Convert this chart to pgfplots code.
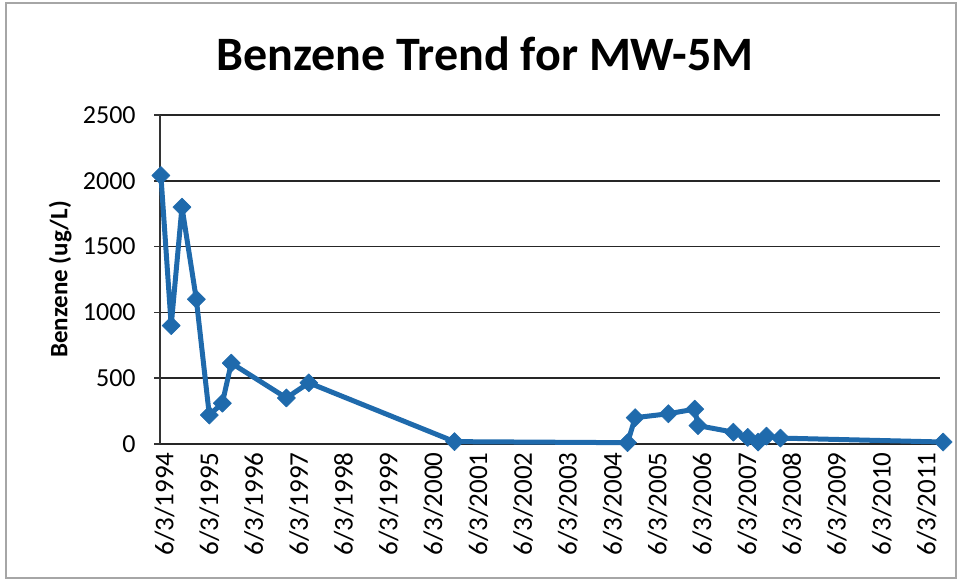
\documentclass[border=0pt]{standalone}
\usepackage{pgfplots}
\pgfplotsset{compat=1.18}
\usepackage{fontspec}
\setmainfont{Carlito}
\definecolor{serblue}{RGB}{31,106,172}
\begin{document}
\begin{tikzpicture}
\path[use as bounding box] (0,0) rectangle (480.5pt,289.5pt);
\draw[gray!70, line width=0.6pt] (3pt,0.5pt) rectangle (478pt,288pt);
\begin{axis}[
  at={(80pt,67.5pt)}, anchor=south west,
  scale only axis, width=390pt, height=164.5pt,
  xmin=1993.9, xmax=2011.3,
  ymin=0, ymax=2500,
  ytick={0,500,...,2500},
  xtick={1994,1995,...,2011},
  xticklabels={6/3/1994,6/3/1995,6/3/1996,6/3/1997,6/3/1998,6/3/1999,6/3/2000,6/3/2001,6/3/2002,6/3/2003,6/3/2004,6/3/2005,6/3/2006,6/3/2007,6/3/2008,6/3/2009,6/3/2010,6/3/2011},
  xticklabel style={rotate=90, anchor=east, font=\fontsize{13.5pt}{14pt}\selectfont, inner sep=1pt, xshift=0pt},
  yticklabel style={font=\fontsize{13pt}{14pt}\selectfont, inner sep=0pt, xshift=-9pt},
  /pgf/number format/assume math mode=true,
  /pgf/number format/1000 sep={},
  axis x line*=bottom, axis y line*=left,
  x axis line style={draw=none},
  y axis line style={black!80, line width=0.8pt},
  major x tick style={draw=none},
  major y tick style={black!80, line width=0.8pt},
  tick align=outside, major tick length=3pt,
  ymajorgrids,
  grid style={black!85, line width=0.8pt},
  title={\bfseries Benzene Trend for MW-5M},
  title style={at={(rel axis cs:0.417,1.15)}, anchor=center, font=\fontsize{24pt}{26pt}\selectfont},
  ylabel={\bfseries Benzene (ug/L)},
  ylabel style={at={(rel axis cs:-0.128,0.5)}, anchor=center, font=\fontsize{12.5pt}{14pt}\selectfont},
  clip=false,
]
\addplot[serblue, line width=2.5pt, line join=round, mark=square*, mark size=3.2pt, mark options={rotate=45, fill=serblue, draw=serblue, line width=0.3pt}] coordinates {
(1993.92,2040)
(1994.15,900)
(1994.39,1800)
(1994.71,1100)
(1995.00,220)
(1995.29,310)
(1995.49,615)
(1996.72,350)
(1997.22,465)
(2000.47,18)
(2004.33,10)
(2004.50,200)
(2005.24,230)
(2005.83,265)
(2005.90,140)
(2006.69,90)
(2007.01,50)
(2007.24,15)
(2007.43,60)
(2007.74,45)
(2011.37,15)
};
\end{axis}
\end{tikzpicture}
\end{document}
